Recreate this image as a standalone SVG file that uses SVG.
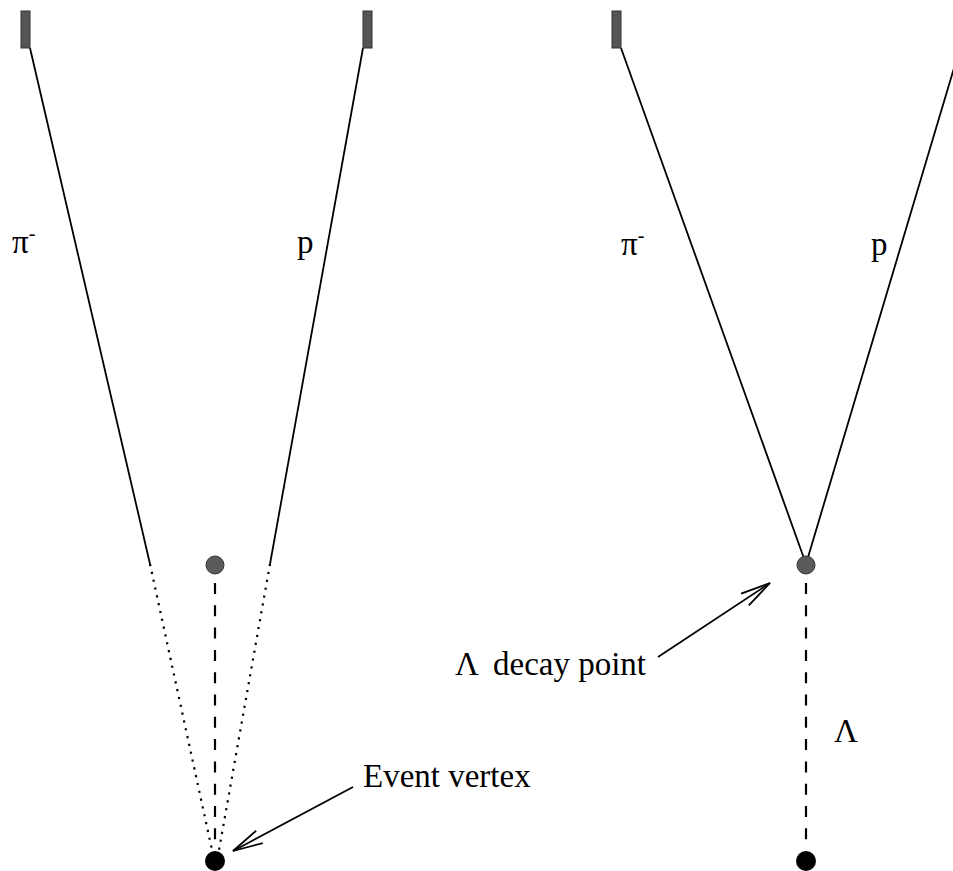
<svg xmlns="http://www.w3.org/2000/svg" width="953" height="871" viewBox="0 0 953 871">
<style>
.bg{fill:#ffffff}
.det{fill:#555555;stroke:#333333;stroke-width:1}
.trk{stroke:#000;stroke-width:1.8;fill:none}
.dot{stroke:#000;stroke-width:2.2;fill:none;stroke-dasharray:2.2 5.8}
.dash{stroke:#000;stroke-width:2.2;fill:none;stroke-dasharray:11 11.3}
.ptr{stroke:#000;stroke-width:1.8;fill:none}
.dec{fill:#5a5a5a;stroke:#333333;stroke-width:1}
.vtx{fill:#000}
.lbl{font-family:"Liberation Serif","Times New Roman",serif;font-size:33px;fill:#000}
.sup{font-size:20px}
</style>
<defs>
<marker id="open" markerUnits="userSpaceOnUse" markerWidth="40" markerHeight="20" refX="0" refY="0" viewBox="-32 -10 34 20" orient="auto" overflow="visible">
<path d="M-30,-7 L0,0 L-30,7" fill="none" stroke="#000" stroke-width="1.8"/>
</marker>
</defs>
<rect class="bg" x="0" y="0" width="953" height="871"/>
<g id="connectors">
<line class="trk" x1="30" y1="48" x2="150" y2="564"/>
<line class="trk" x1="363" y1="48" x2="270" y2="564"/>
<line class="dot" x1="150" y1="564" x2="212" y2="850"/>
<line class="dot" x1="270" y1="564" x2="219" y2="850"/>
<line class="dash" x1="215" y1="583" x2="215" y2="850"/>
<line class="trk" x1="621" y1="48" x2="806" y2="564"/>
<line class="trk" x1="960" y1="48" x2="806" y2="564"/>
<line class="dash" x1="806" y1="583" x2="806" y2="850"/>
<line class="ptr" x1="353" y1="787" x2="233" y2="851" marker-end="url(#open)"/>
<line class="ptr" x1="658" y1="657" x2="770" y2="583" marker-end="url(#open)"/>
</g>
<g id="det-pi-left"><rect class="det" x="21" y="11" width="9" height="37"/></g>
<g id="det-p-left"><rect class="det" x="363" y="11" width="9" height="37"/></g>
<g id="det-pi-right"><rect class="det" x="612" y="11" width="9" height="37"/></g>
<g id="decay-left"><circle class="dec" cx="215" cy="565" r="9"/></g>
<g id="vertex-left"><circle class="vtx" cx="215" cy="861" r="10"/></g>
<g id="decay-right"><circle class="dec" cx="806" cy="565" r="9"/></g>
<g id="vertex-right"><circle class="vtx" cx="806" cy="861" r="10"/></g>
<g id="labels">
<text class="lbl" x="12" y="253">π<tspan class="sup" dy="-13">-</tspan></text>
<text class="lbl" x="297" y="253">p</text>
<text class="lbl" x="621" y="255">π<tspan class="sup" dy="-13">-</tspan></text>
<text class="lbl" x="871" y="255">p</text>
<text class="lbl" x="834" y="742">Λ</text>
<text class="lbl" x="455" y="675">Λ<tspan x="493">decay point</tspan></text>
<text class="lbl" x="363" y="787">Event vertex</text>
</g>
</svg>
